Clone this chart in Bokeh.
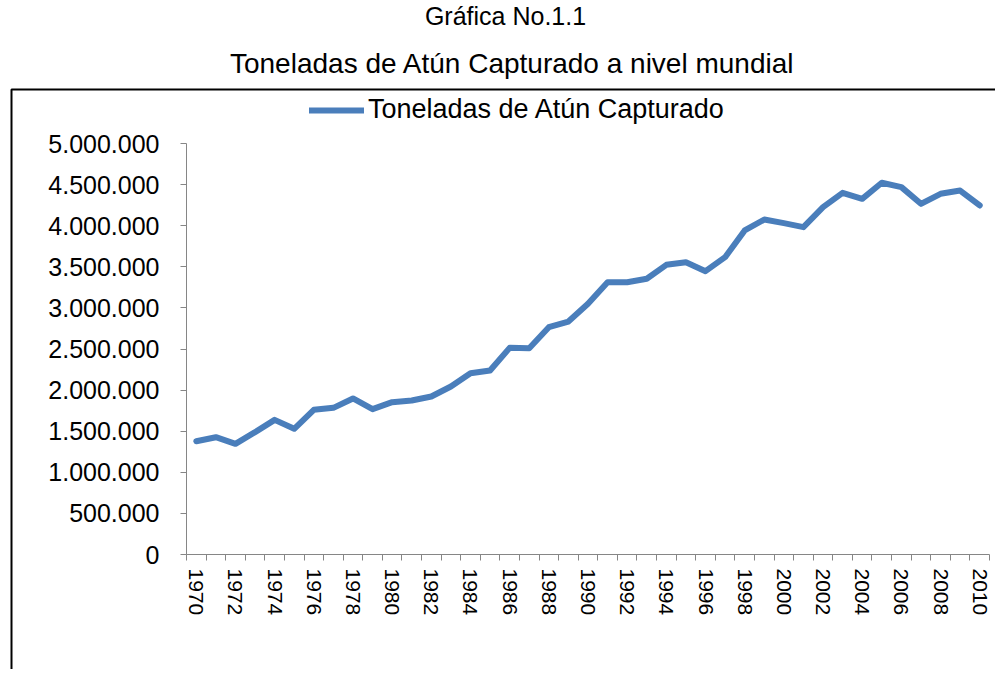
from bokeh.plotting import figure
from bokeh.models import (Range1d, FixedTicker, CustomJSTickFormatter, Label,
                          Legend, LegendItem, BoxAnnotation, LinearAxis)
from bokeh.embed import file_html
from bokeh.resources import INLINE

# ---- data ----
years = list(range(1970, 2011))
toneladas = [1378000, 1427000, 1346000, 1488000, 1638000, 1529000, 1760000,
             1784000, 1898000, 1768000, 1853000, 1873000, 1922000, 2044000,
             2206000, 2238000, 2514000, 2510000, 2765000, 2834000, 3050000,
             3313000, 3313000, 3354000, 3524000, 3556000, 3447000, 3617000,
             3942000, 4075000, 4031000, 3982000, 4225000, 4400000, 4327000,
             4522000, 4469000, 4266000, 4388000, 4428000, 4246000]
y_ticks = [0, 500000, 1000000, 1500000, 2000000, 2500000, 3000000,
           3500000, 4000000, 4500000, 5000000]
x_label_years = [1970, 1972, 1974, 1976, 1978, 1980, 1982, 1984, 1986, 1988,
                 1990, 1992, 1994, 1996, 1998, 2000, 2002, 2004, 2006, 2008, 2010]
suptitle = "Gráfica No.1.1"
title = "Toneladas de Atún Capturado a nivel mundial"
series_name = "Toneladas de Atún Capturado"

# ---- layout / style ----
FONT = "Liberation Sans"
AXIS_COLOR = "#868686"
LINE_COLOR = "#4A7EBB"
W, H = 995, 669
PX_L, PX_R = 186, 989      # plot-area left/right (pixels)
PY_T, PY_B = 143, 554      # plot-area top/bottom (pixels)

x_lo, x_hi = years[0] - 0.5, years[-1] + 0.5
y_lo, y_hi = y_ticks[0], y_ticks[-1]
xs = (PX_R - PX_L) / (x_hi - x_lo)
ys = (PY_B - PY_T) / (y_hi - y_lo)

p = figure(width=W, height=H,
           min_border_left=0, min_border_right=0,
           min_border_top=0, min_border_bottom=0,
           x_range=Range1d(x_lo - PX_L / xs, x_hi + (W - PX_R) / xs),
           y_range=Range1d(y_lo - (H - PY_B) / ys, y_hi + PY_T / ys),
           output_backend="svg", toolbar_location=None,
           x_axis_location=None, y_axis_location=None)
p.outline_line_color = None
p.background_fill_color = "white"
p.border_fill_color = "white"
p.xgrid.visible = False
p.ygrid.visible = False

r = p.line(years, toneladas, line_color=LINE_COLOR, line_width=6,
           line_join="round", line_cap="round")

# y axis (drawn at the plot-area's left edge)
ya = LinearAxis(fixed_location=x_lo, bounds=(y_lo, y_hi))
ya.ticker = FixedTicker(ticks=y_ticks)
ya.formatter = CustomJSTickFormatter(code="""
return Math.round(tick).toString().replace(/\\B(?=(\\d{3})+(?!\\d))/g, '.');
""")
ya.axis_line_color = AXIS_COLOR
ya.major_tick_line_color = AXIS_COLOR
ya.major_tick_out = 6
ya.major_tick_in = 0
ya.minor_tick_line_color = None
ya.major_label_standoff = 21
ya.major_label_text_font = FONT
ya.major_label_text_font_size = "25px"
ya.major_label_text_color = "black"
p.add_layout(ya, "left")

# x axis
xa = LinearAxis(fixed_location=y_lo, bounds=(x_lo, x_hi))
xa.ticker = FixedTicker(ticks=x_label_years,
                        minor_ticks=[y - 0.5 for y in years] + [x_hi])
xa.axis_line_color = AXIS_COLOR
xa.major_tick_line_color = None
xa.minor_tick_line_color = AXIS_COLOR
xa.minor_tick_out = 6
xa.minor_tick_in = 0
xa.major_label_orientation = "vertical"
xa.major_label_standoff = 8
xa.major_label_text_font = FONT
xa.major_label_text_font_size = "21px"
xa.major_label_text_color = "black"
p.add_layout(xa, "below")

# legend
legend = Legend(items=[LegendItem(label=series_name, renderers=[r])],
                location=(309, H - 125), orientation="horizontal",
                glyph_width=55, glyph_height=20, label_standoff=4,
                padding=0, margin=0, spacing=0,
                border_line_color=None, background_fill_alpha=0,
                label_text_font=FONT, label_text_font_size="27px",
                label_text_color="black")
p.add_layout(legend, "center")

# titles
p.add_layout(Label(x=505, y=H - 29, x_units="screen", y_units="screen",
                   text=suptitle, text_align="center", text_font=FONT,
                   text_font_size="25px", text_color="black"))
p.add_layout(Label(x=512, y=H - 78, x_units="screen", y_units="screen",
                   text=title, text_align="center", text_font=FONT,
                   text_font_size="28px", text_color="black"))

# outer chart-area border (only left and top edges fall inside the canvas)
p.add_layout(BoxAnnotation(left=11, right=W + 50, top=H - 89, bottom=-50,
                           left_units="screen", right_units="screen",
                           top_units="screen", bottom_units="screen",
                           fill_alpha=0, line_color="black", line_alpha=1.0,
                           line_width=2))

open("out.html", "w").write(file_html(p, INLINE))
